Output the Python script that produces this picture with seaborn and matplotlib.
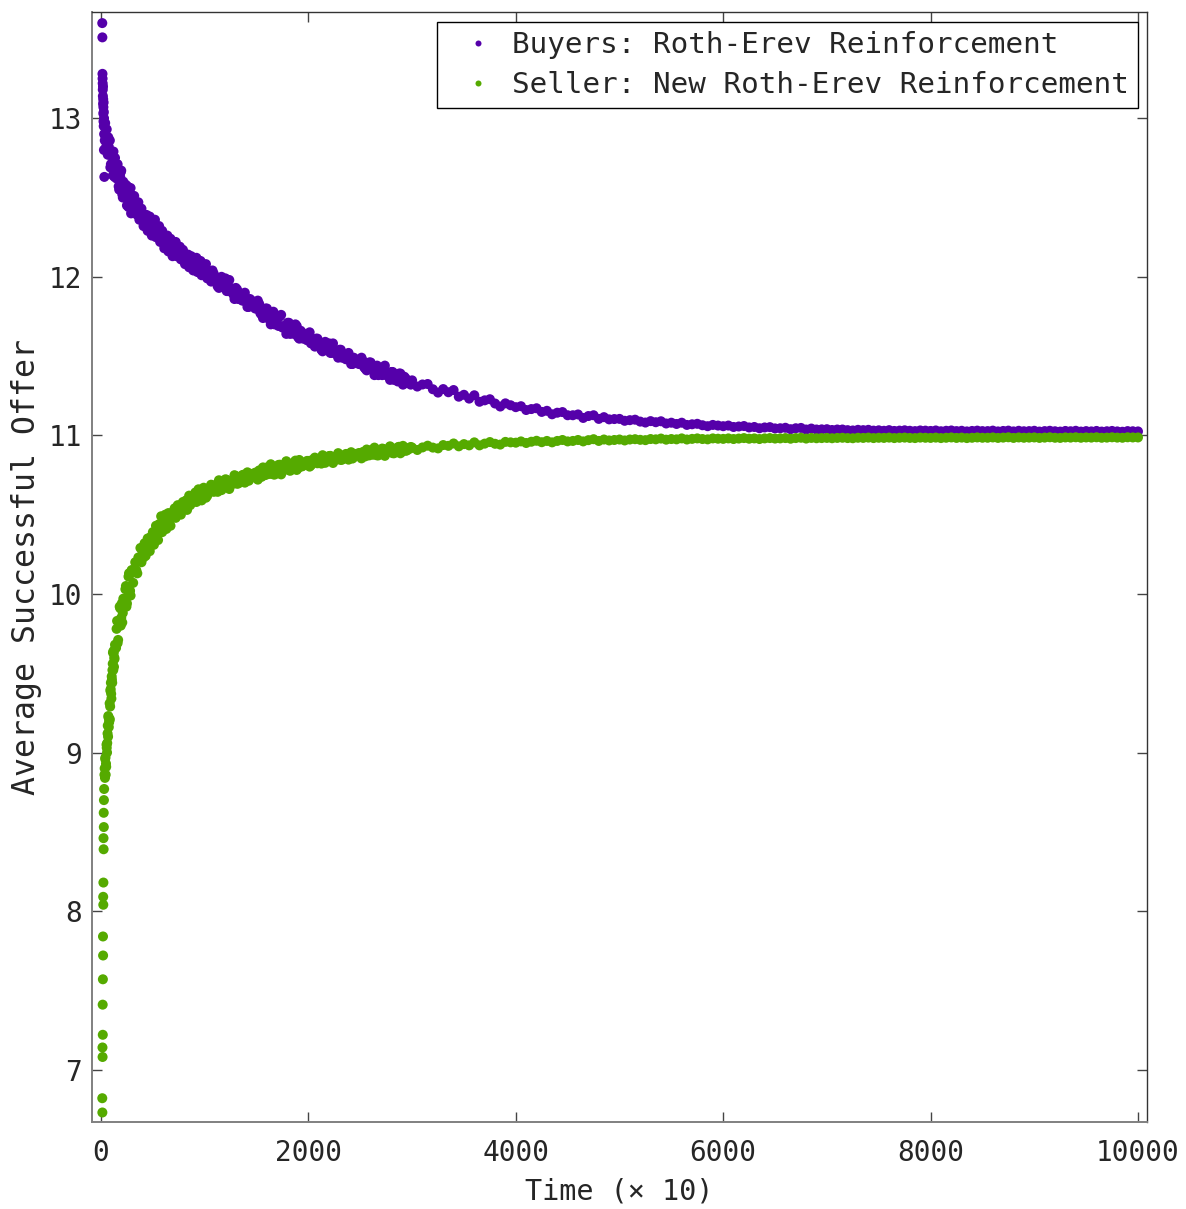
import matplotlib
matplotlib.use("Agg")
import matplotlib.pyplot as plt
import pandas as pd
import seaborn as sns

# ---------------------------------------------------------------------------
# Average successful offer over time (time axis in units of 10 steps)
# ---------------------------------------------------------------------------
series_labels = ["Buyers: Roth-Erev Reinforcement",
                 "Seller: New Roth-Erev Reinforcement"]
series_colors = ["#5500aa", "#55aa00"]

# sampling times of the recorded points
buyer_early_time = [12, 13, 14, 15, 16, 17, 18, 19, 20, 21, 22,
                    23, 24, 25, 26, 27, 28, 29, 30, 32, 34, 36]
buyer_fine_time = list(range(40, 1000, 10))
buyer_fill_time = list(range(45, 300, 10))
seller_early_time = [12, 13, 14, 15, 16, 17, 18, 19, 20,
                     21, 22, 23, 24, 25, 26, 27, 28]
seller_fine_time = list(range(30, 1000, 10))
seller_fill_time = list(range(35, 300, 10))
seller_ramp_time = list(range(33, 130, 5))
mid_time = list(range(1000, 3000, 25))
mid_fill_time = list(range(1012, 3000, 25))
late_time = list(range(3000, 10001, 50))

# buyers
buyer_early_offer = [13.60, 13.51, 13.28, 13.25, 13.22, 13.18, 13.14, 13.20,
                     13.09, 13.12, 13.03, 13.07, 12.98, 13.10, 12.95, 13.04,
                     12.80, 13.00, 12.90, 12.63, 12.97, 12.86]
buyer_fine_offer = [
    12.97, 12.82, 12.87, 12.88, 12.77, 12.69, 12.79, 12.72, 12.79, 12.63,
    12.70, 12.62, 12.71, 12.57, 12.61, 12.66, 12.56, 12.50, 12.58, 12.55,
    12.58, 12.45, 12.53, 12.56, 12.46, 12.40,
    12.50, 12.45, 12.51, 12.40, 12.45, 12.39, 12.47, 12.36, 12.40, 12.43,
    12.36, 12.32, 12.39, 12.37, 12.39, 12.29, 12.35, 12.38, 12.30, 12.26,
    12.34, 12.30, 12.36, 12.25, 12.30, 12.25, 12.32, 12.22, 12.26, 12.29,
    12.22, 12.18, 12.25, 12.23, 12.26, 12.16, 12.21, 12.24, 12.17, 12.13,
    12.20, 12.17, 12.22, 12.13, 12.17, 12.13, 12.19, 12.11, 12.14, 12.17,
    12.12, 12.08, 12.14, 12.12, 12.14, 12.06, 12.11, 12.13, 12.07, 12.04,
    12.10, 12.07, 12.12, 12.03, 12.07, 12.04, 12.10, 12.01, 12.05, 12.07]
buyer_fill_offer = [
    12.88, 12.93, 12.77, 12.82, 12.86, 12.71, 12.77, 12.64, 12.72, 12.75,
    12.63, 12.63, 12.68, 12.55, 12.63, 12.67, 12.52, 12.60, 12.51, 12.54,
    12.50, 12.57, 12.44, 12.50, 12.56, 12.43]
buyer_mid_offer = [
    12.06, 11.99, 12.02, 12.04, 11.98, 11.94, 11.99, 11.95, 11.99, 11.91,
    11.93, 11.89, 11.93, 11.86, 11.88, 11.89, 11.84, 11.81, 11.85, 11.83,
    11.80, 11.83, 11.76, 11.78, 11.80, 11.73, 11.76, 11.70, 11.73, 11.75,
    11.68, 11.69, 11.71, 11.64, 11.68, 11.70, 11.62, 11.66, 11.61, 11.62,
    11.63, 11.58, 11.60, 11.61, 11.57, 11.54, 11.58, 11.55, 11.58, 11.52,
    11.54, 11.51, 11.54, 11.49, 11.50, 11.51, 11.48, 11.45, 11.48, 11.47,
    11.45, 11.47, 11.42, 11.44, 11.46, 11.41, 11.43, 11.38, 11.41, 11.43,
    11.38, 11.38, 11.40, 11.35, 11.38, 11.39, 11.34, 11.37, 11.33, 11.34]
buyer_mid_fill_offer = [
    12.08, 12.00, 11.97, 12.02, 11.99, 11.93, 12.00, 11.97, 11.91, 11.98,
    11.91, 11.86, 11.92, 11.89, 11.85, 11.90, 11.81, 11.86, 11.82, 11.80,
    11.85, 11.77, 11.74, 11.80, 11.77, 11.70, 11.78, 11.74, 11.69, 11.76,
    11.69, 11.64, 11.71, 11.68, 11.64, 11.69, 11.61, 11.65, 11.62, 11.60,
    11.65, 11.59, 11.56, 11.61, 11.58, 11.53, 11.59, 11.57, 11.52, 11.58,
    11.52, 11.49, 11.54, 11.51, 11.48, 11.52, 11.45, 11.49, 11.46, 11.45,
    11.49, 11.43, 11.41, 11.46, 11.43, 11.38, 11.44, 11.42, 11.38, 11.44,
    11.38, 11.35, 11.40, 11.38, 11.34, 11.39, 11.32, 11.36, 11.34, 11.32]
buyer_late_offer = [
    11.347, 11.308, 11.321, 11.324, 11.291, 11.270, 11.292, 11.272, 11.286, 11.244,
    11.256, 11.232, 11.253, 11.212, 11.221, 11.228, 11.201, 11.182, 11.202, 11.190,
    11.178, 11.184, 11.160, 11.166, 11.171, 11.148, 11.155, 11.133, 11.143, 11.147,
    11.127, 11.127, 11.132, 11.110, 11.122, 11.127, 11.104, 11.115, 11.101, 11.103,
    11.104, 11.092, 11.096, 11.099, 11.087, 11.081, 11.090, 11.083, 11.089, 11.075,
    11.080, 11.072, 11.080, 11.066, 11.070, 11.073, 11.064, 11.058, 11.066, 11.062,
    11.058, 11.062, 11.053, 11.056, 11.059, 11.050, 11.053, 11.045, 11.050, 11.052,
    11.044, 11.045, 11.048, 11.039, 11.045, 11.047, 11.037, 11.043, 11.037, 11.038,
    11.039, 11.034, 11.037, 11.037, 11.033, 11.031, 11.035, 11.033, 11.035, 11.030,
    11.032, 11.029, 11.033, 11.028, 11.030, 11.032, 11.029, 11.027, 11.031, 11.030,
    11.028, 11.031, 11.026, 11.029, 11.031, 11.027, 11.029, 11.025, 11.028, 11.030,
    11.027, 11.027, 11.030, 11.025, 11.028, 11.030, 11.025, 11.029, 11.026, 11.027,
    11.029, 11.024, 11.027, 11.029, 11.026, 11.024, 11.028, 11.026, 11.029, 11.024,
    11.027, 11.025, 11.028, 11.024, 11.026, 11.028, 11.025, 11.023, 11.027, 11.026,
    11.025]

# seller
seller_early_offer = [6.82, 6.73, 7.14, 7.08, 7.41, 7.22, 7.57, 7.84, 7.72,
                      8.09, 8.04, 8.18, 8.46, 8.39, 8.62, 8.53, 8.70]
seller_fine_offer = [
    8.77, 8.96, 8.91, 9.06, 9.23, 9.20, 9.39, 9.34, 9.52, 9.64,
    9.59, 9.66, 9.78, 9.69, 9.83, 9.92, 9.80, 9.94, 9.88, 9.95,
    9.94, 10.05, 9.94, 10.04, 10.13, 10.02, 10.13,
    10.15, 10.07, 10.15, 10.20, 10.15, 10.13, 10.23, 10.21, 10.29, 10.20,
    10.27, 10.23, 10.32, 10.24, 10.30, 10.35, 10.30, 10.27, 10.36, 10.35,
    10.39, 10.31, 10.38, 10.43, 10.37, 10.34, 10.44, 10.41, 10.49, 10.39,
    10.46, 10.42, 10.50, 10.41, 10.47, 10.51, 10.46, 10.43, 10.51, 10.50,
    10.49, 10.54, 10.48, 10.52, 10.56, 10.51, 10.55, 10.50, 10.55, 10.58,
    10.54, 10.55, 10.59, 10.53, 10.59, 10.62, 10.56, 10.61, 10.58, 10.60,
    10.59, 10.64, 10.58, 10.62, 10.66, 10.60, 10.64, 10.59, 10.64, 10.67]
seller_fill_offer = [
    8.90, 8.86, 9.03, 9.17, 9.16, 9.21, 9.44, 9.46, 9.63, 9.54,
    9.68, 9.66, 9.83, 9.71, 9.82, 9.91, 9.85, 9.82, 9.97, 9.97,
    10.03, 9.92, 10.04, 10.11, 10.02, 9.99, 10.15]
seller_ramp_offer = [
    8.86, 8.84, 8.97, 8.93, 9.05, 9.00, 9.12, 9.10, 9.22, 9.19,
    9.31, 9.29, 9.40, 9.37, 9.48, 9.44, 9.56, 9.52, 9.63, 9.60]
seller_mid_offer = [
    10.658, 10.620, 10.660, 10.685, 10.656, 10.644, 10.695, 10.684, 10.723, 10.678,
    10.714, 10.695, 10.743, 10.697, 10.726, 10.752, 10.727, 10.714, 10.757, 10.753,
    10.745, 10.779, 10.739, 10.770, 10.798, 10.757, 10.791, 10.753, 10.793, 10.815,
    10.779, 10.792, 10.819, 10.777, 10.817, 10.841, 10.793, 10.832, 10.809, 10.824,
    10.839, 10.812, 10.837, 10.852, 10.831, 10.822, 10.855, 10.845, 10.870, 10.839,
    10.861, 10.848, 10.878, 10.847, 10.865, 10.882, 10.864, 10.854, 10.883, 10.879,
    10.873, 10.895, 10.868, 10.888, 10.906, 10.878, 10.900, 10.874, 10.900, 10.914,
    10.890, 10.897, 10.915, 10.887, 10.913, 10.928, 10.896, 10.922, 10.905, 10.915]
seller_mid_fill_offer = [
    10.607, 10.666, 10.689, 10.644, 10.667, 10.717, 10.655, 10.678, 10.720, 10.662,
    10.716, 10.749, 10.695, 10.716, 10.749, 10.702, 10.767, 10.728, 10.752, 10.765,
    10.721, 10.777, 10.798, 10.750, 10.770, 10.818, 10.754, 10.774, 10.814, 10.754,
    10.805, 10.837, 10.780, 10.799, 10.831, 10.782, 10.845, 10.804, 10.828, 10.839,
    10.803, 10.845, 10.860, 10.824, 10.839, 10.875, 10.827, 10.841, 10.871, 10.826,
    10.864, 10.888, 10.845, 10.860, 10.883, 10.847, 10.894, 10.863, 10.881, 10.889,
    10.855, 10.896, 10.911, 10.874, 10.888, 10.923, 10.874, 10.888, 10.917, 10.871,
    10.909, 10.931, 10.888, 10.902, 10.925, 10.887, 10.934, 10.903, 10.919, 10.927]
seller_late_offer = [
    10.923, 10.908, 10.924, 10.935, 10.923, 10.918, 10.939, 10.934, 10.949, 10.931,
    10.945, 10.937, 10.956, 10.937, 10.948, 10.958, 10.947, 10.942, 10.959, 10.956,
    10.954, 10.962, 10.952, 10.960, 10.966, 10.957, 10.965, 10.956, 10.965, 10.971,
    10.962, 10.965, 10.971, 10.962, 10.970, 10.976, 10.965, 10.974, 10.968, 10.971,
    10.974, 10.968, 10.974, 10.976, 10.972, 10.970, 10.977, 10.975, 10.980, 10.973,
    10.977, 10.975, 10.981, 10.974, 10.978, 10.981, 10.977, 10.975, 10.981, 10.979,
    10.978, 10.981, 10.977, 10.980, 10.983, 10.979, 10.981, 10.977, 10.981, 10.983,
    10.980, 10.981, 10.983, 10.979, 10.983, 10.985, 10.980, 10.984, 10.982, 10.983,
    10.984, 10.982, 10.984, 10.985, 10.983, 10.982, 10.985, 10.984, 10.986, 10.983,
    10.985, 10.984, 10.986, 10.983, 10.985, 10.986, 10.984, 10.983, 10.986, 10.985,
    10.984, 10.986, 10.983, 10.985, 10.987, 10.984, 10.986, 10.983, 10.985, 10.987,
    10.985, 10.985, 10.987, 10.984, 10.986, 10.988, 10.984, 10.987, 10.985, 10.986,
    10.987, 10.984, 10.986, 10.988, 10.985, 10.984, 10.987, 10.986, 10.988, 10.985,
    10.987, 10.986, 10.988, 10.985, 10.986, 10.988, 10.986, 10.985, 10.988, 10.987,
    10.987]

x_ticks = [0, 2000, 4000, 6000, 8000, 10000]
y_ticks = [7, 8, 9, 10, 11, 12, 13]

# ---------------------------------------------------------------------------
buyers = pd.DataFrame({
    "time": buyer_early_time + buyer_fine_time + buyer_fill_time
            + mid_time + mid_fill_time + late_time,
    "offer": buyer_early_offer + buyer_fine_offer + buyer_fill_offer
             + buyer_mid_offer + buyer_mid_fill_offer + buyer_late_offer,
})
buyers["series"] = series_labels[0]
seller = pd.DataFrame({
    "time": seller_early_time + seller_fine_time + seller_fill_time
            + seller_ramp_time + mid_time + mid_fill_time + late_time,
    "offer": seller_early_offer + seller_fine_offer + seller_fill_offer
             + seller_ramp_offer + seller_mid_offer + seller_mid_fill_offer
             + seller_late_offer,
})
seller["series"] = series_labels[1]
df = pd.concat([buyers, seller], ignore_index=True)

sns.set_style("ticks")
plt.rcParams["font.family"] = ["DejaVu Sans Mono"]

W, H = 1186, 1209
fig = plt.figure(figsize=(W / 100, H / 100), dpi=100)
ax = fig.add_axes([92 / W, 1 - 1122 / H, (1147 - 92) / W, (1122 - 12) / H])

sns.scatterplot(data=df, x="time", y="offer", hue="series",
                hue_order=series_labels, palette=series_colors,
                s=52, linewidth=0, edgecolor="none", ax=ax)

ax.set_xlim(-87, 10087)
ax.set_ylim(6.67, 13.67)
ax.set_xticks(x_ticks)
ax.set_yticks(y_ticks)
ax.set_xticklabels([str(v) for v in x_ticks])
ax.set_yticklabels([str(v) for v in y_ticks])

ax.tick_params(axis="both", direction="in", length=7, width=1.0,
               color="#444444", top=True, right=True, labelsize=20)
ax.tick_params(axis="x", pad=12)
ax.tick_params(axis="y", pad=7)

for side in ("left", "bottom"):
    ax.spines[side].set_color("#808080")
    ax.spines[side].set_linewidth(1.4)
for side in ("top", "right"):
    ax.spines[side].set_color("#333333")
    ax.spines[side].set_linewidth(1.0)

ax.set_xlabel("Time (× 10)", fontsize=20.5, labelpad=8)
ax.set_ylabel("Average Successful Offer", fontsize=22.7, labelpad=5)

old = ax.get_legend()
handles = old.legend_handles
labels = [t.get_text() for t in old.get_texts()]
old.remove()
leg = ax.legend(handles, labels, loc="upper right",
                bbox_to_anchor=(0.9915, 0.991), borderaxespad=0,
                frameon=True, fancybox=False, edgecolor="black",
                fontsize=21.1, markerscale=0.6, handlelength=2.2,
                handletextpad=0.06, borderpad=0.3, labelspacing=0.42)
leg.get_frame().set_linewidth(1.0)
leg.get_frame().set_facecolor("white")
leg.get_frame().set_alpha(1.0)

fig.savefig("out.png", dpi=100)
